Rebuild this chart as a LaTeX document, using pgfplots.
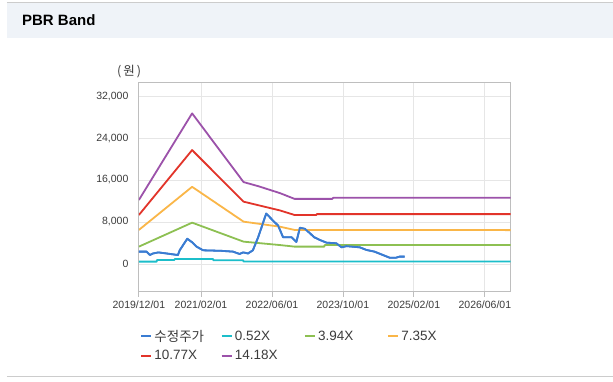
\documentclass[border=0pt]{standalone}
\usepackage{pgfplots}
\pgfplotsset{compat=1.18}
\usepackage{fontspec}
\setmainfont{Liberation Sans}
\newfontfamily\kr{Noto Sans CJK KR}
\definecolor{cblue}{RGB}{58,124,210}
\definecolor{ccyan}{RGB}{28,190,202}
\definecolor{cgreen}{RGB}{141,192,82}
\definecolor{corange}{RGB}{250,182,72}
\definecolor{cred}{RGB}{226,52,42}
\definecolor{cpurple}{RGB}{156,82,170}
\definecolor{gridc}{RGB}{230,230,230}
\definecolor{framec}{RGB}{190,190,190}
\definecolor{barc}{RGB}{239,243,248}
\definecolor{txt}{RGB}{60,60,60}
\begin{document}
\begin{tikzpicture}[x=1pt,y=1pt]
\fill[white] (0,0) rectangle (613,382);
\fill[barc] (7,344) rectangle (613,379);
\draw[gray!40,line width=1pt] (7,379) -- (613,379);
\draw[gray!40,line width=1pt] (7,5) -- (613,5);
\node[anchor=west,font=\bfseries\fontsize{15}{17}\selectfont,inner sep=0pt] at (22,361.5) {PBR Band};
\node[anchor=west,font=\fontsize{12.5}{14}\selectfont,text=txt,inner sep=0pt] at (117,310) {{\kr (\,원\,)}};
\begin{axis}[
  at={(139pt,90pt)}, anchor=south west,
  scale only axis, width=372pt, height=209pt,
  xmin=0, xmax=83.8, ymin=-5300, ymax=34500,
  xtick={0,14,30,46,62,78},
  xticklabels={2019/12/01,2021/02/01,2022/06/01,2023/10/01,2025/02/01,2026/06/01},
  ytick={0,8000,16000,24000,32000},
  scaled y ticks=false,
  /pgf/number format/.cd, 1000 sep={,}, assume math mode=true, /pgfplots/.cd,
  grid=major, grid style={color=gridc, line width=0.8pt},
  axis line style={framec, line width=1pt},
  xtick pos=bottom, tick align=outside, major tick length=5pt,
  xtick style={framec, line width=0.8pt},
  ytick style={draw=none},
  ticklabel style={font=\fontsize{10.5}{12}\selectfont, text=txt},
  xticklabel style={yshift=-1pt},
  yticklabel style={xshift=-2pt},
  legend columns=4,
  legend style={at={(0,0)}, anchor=north west, xshift=-2pt, yshift=-34pt,
    draw=none, fill=none, font=\fontsize{13.5}{15}\selectfont, text=txt,
    /tikz/every even column/.append style={column sep=0pt},
    row sep=4pt},
  legend cell align=left,
  legend image code/.code={\draw[line width=2.4pt,#1] (0pt,0pt) -- (10pt,0pt);},
  every axis plot/.append style={line width=1.8pt, line join=round},
]
\addplot[cblue] coordinates {(0,2350)(1.7,2350)(2.5,1710)(3.2,2000)(4.4,2200)(6.2,2000)(8.8,1700)(9.2,2600)(10.9,4800)(11.9,4200)(13,3300)(14.5,2600)(18.6,2500)(21.2,2350)(22.7,1900)(23.5,2200)(24.6,2000)(25.7,2600)(26.9,5100)(28.7,9600)(30.2,8300)(31.4,7300)(32.5,5100)(34.4,5100)(35.5,4200)(36.3,6900)(37.4,6700)(38.5,5900)(39.5,5100)(40.8,4570)(42.3,4060)(44.5,3940)(45.7,3170)(46.8,3400)(49.8,3170)(51.3,2670)(53.1,2350)(55,1710)(56.5,1200)(58,1200)(58.8,1400)(59.9,1400)};
\addlegendentry{\makebox[64pt][l]{\kr 수정주가}}
\addplot[ccyan] coordinates {(0,440)(4,440)(4.1,760)(8,760)(8.1,950)(16.7,950)(16.8,700)(23.5,700)(23.6,460)(83.8,460)};
\addlegendentry{\makebox[67pt][l]{0.52X}}
\addplot[cgreen] coordinates {(0,3300)(12,7870)(23.6,4250)(31.8,3600)(35.1,3300)(41.8,3300)(41.9,3600)(83.8,3600)};
\addlegendentry{\makebox[67pt][l]{3.94X}}
\addplot[corange] coordinates {(0,6480)(12,14700)(23.6,8060)(31.8,7100)(35.1,6480)(83.8,6450)};
\addlegendentry{\makebox[67pt][l]{7.35X}}
\addplot[cred] coordinates {(0,9330)(12,21700)(23.6,11870)(31.8,10200)(35.1,9330)(40,9330)(40.1,9500)(83.8,9500)};
\addlegendentry{10.77X}
\addplot[cpurple] coordinates {(0,12190)(12,28700)(23.6,15600)(27,14800)(31.8,13500)(35.1,12400)(43.6,12400)(43.8,12600)(83.8,12600)};
\addlegendentry{14.18X}
\addplot[cblue, forget plot] coordinates {(0,2350)(1.7,2350)(2.5,1710)(3.2,2000)(4.4,2200)(6.2,2000)(8.8,1700)(9.2,2600)(10.9,4800)(11.9,4200)(13,3300)(14.5,2600)(18.6,2500)(21.2,2350)(22.7,1900)(23.5,2200)(24.6,2000)(25.7,2600)(26.9,5100)(28.7,9600)(30.2,8300)(31.4,7300)(32.5,5100)(34.4,5100)(35.5,4200)(36.3,6900)(37.4,6700)(38.5,5900)(39.5,5100)(40.8,4570)(42.3,4060)(44.5,3940)(45.7,3170)(46.8,3400)(49.8,3170)(51.3,2670)(53.1,2350)(55,1710)(56.5,1200)(58,1200)(58.8,1400)(59.9,1400)};
\end{axis}
\end{tikzpicture}
\end{document}
